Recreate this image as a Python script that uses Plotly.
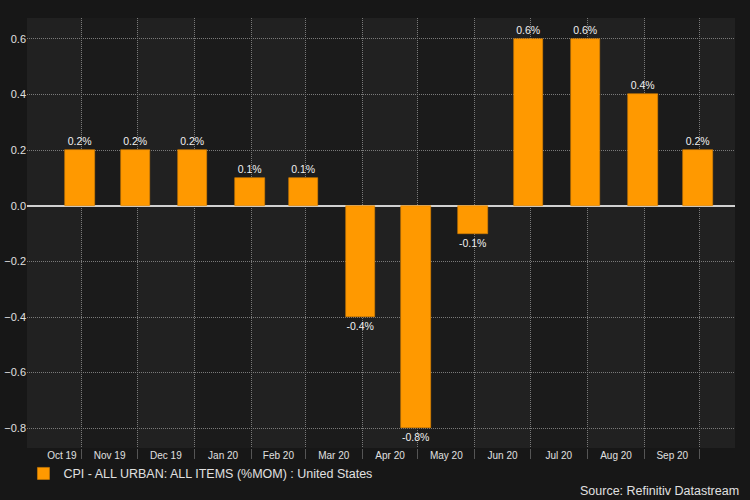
import plotly.graph_objects as go
import pandas as pd

# Data
dates = ["2019-10-31", "2019-11-30", "2019-12-31", "2020-01-31", "2020-02-29", "2020-03-31",
         "2020-04-30", "2020-05-31", "2020-06-30", "2020-07-31", "2020-08-31", "2020-09-30"]
values = [0.2, 0.2, 0.2, 0.1, 0.1, -0.4, -0.8, -0.1, 0.6, 0.6, 0.4, 0.2]
tick_labels = ["Oct 19", "Nov 19", "Dec 19", "Jan 20", "Feb 20", "Mar 20",
               "Apr 20", "May 20", "Jun 20", "Jul 20", "Aug 20", "Sep 20"]
series_name = "CPI - ALL URBAN: ALL ITEMS (%MOM) : United States"
source_text = "Source: Refinitiv Datastream"

ORANGE = "#FF9900"
FONT = "Liberation Sans, Arial, sans-serif"
x_range = ["2019-10-02 05:00", "2020-10-20"]

# label positions: middle of each month (first one within the visible range)
label_pos = []
for d in dates:
    ts = pd.Timestamp(d)
    start = max(ts.replace(day=1), pd.Timestamp(x_range[0]))
    end = ts + pd.Timedelta(days=1)
    label_pos.append(start + (end - start) / 2)
label_pos[0] = label_pos[0] + pd.Timedelta(days=4)

fig = go.Figure()
fig.add_trace(go.Bar(
    x=dates, y=values, name=series_name,
    marker=dict(color=ORANGE, line=dict(color="#d98200", width=0.6)),
    width=16 * 86400000,
    texttemplate="%{y:.1f}%", textposition="outside",
    textfont=dict(color="#f0f0f0", size=10.5, family=FONT),
    cliponaxis=False,
))

# alternating background bands at month boundaries
month_starts = pd.date_range("2019-10-01", "2020-11-01", freq="MS")
shapes = []
for i in range(0, len(month_starts) - 1, 2):
    x0 = max(month_starts[i], pd.Timestamp(x_range[0]))
    x1 = min(month_starts[i + 1], pd.Timestamp(x_range[1]))
    shapes.append(dict(type="rect", xref="x", yref="paper", x0=x0, x1=x1, y0=0, y1=1,
                       fillcolor="#212121", line=dict(width=0), layer="below"))

GRID_DASH = "1px,1px"

fig.update_layout(
    width=750, height=500,
    paper_bgcolor="#171717", plot_bgcolor="#1b1b1b",
    margin=dict(l=27, r=15, t=17.5, b=52, autoexpand=False),
    font=dict(family=FONT, color="#e0e0e0", size=11),
    shapes=shapes,
    showlegend=True,
    legend=dict(orientation="h", x=-0.005, xanchor="left", y=-0.06, yanchor="middle",
                bgcolor="rgba(0,0,0,0)", font=dict(size=12.5, color="#e0e0e0", family=FONT)),
    bargap=0,
    annotations=[dict(text=source_text, xref="paper", yref="paper", x=1.008, y=-0.1,
                      xanchor="right", yanchor="middle", showarrow=False,
                      font=dict(size=12.5, color="#e0e0e0", family=FONT))],
)
fig.update_xaxes(
    type="date", range=x_range,
    tickmode="array", tickvals=label_pos, ticktext=tick_labels,
    showgrid=False, ticks="", ticklen=0,
    tickfont=dict(size=10, color="#e0e0e0", family=FONT),
    minor=dict(dtick="M1", tick0="2019-11-01", showgrid=True, gridcolor="#7a7a7a",
               griddash=GRID_DASH, gridwidth=1, ticks="outside", ticklen=10, tickcolor="#555555"),
    showline=False, zeroline=False,
)
fig.update_yaxes(
    range=[-0.871, 0.675], dtick=0.2, tick0=0, tickformat=".1f",
    showgrid=True, gridcolor="#7a7a7a", griddash=GRID_DASH, gridwidth=1,
    zeroline=True, zerolinecolor="#d0d0d0", zerolinewidth=1.5,
    ticks="", tickfont=dict(size=11, color="#e0e0e0", family=FONT),
    showline=False,
)

fig.write_html("out.html", config={"displayModeBar": False},
               post_script="document.body.style.margin='0';document.body.style.background='#171717';")
